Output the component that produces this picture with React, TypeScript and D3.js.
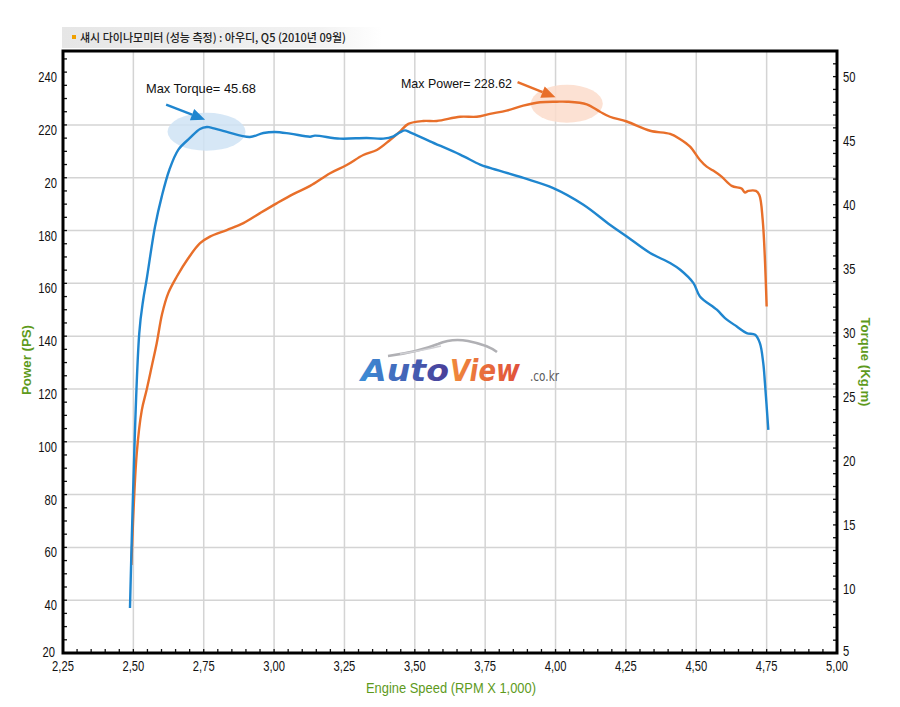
import React from "react";
import * as d3 from "d3";

// ---- data (RPM x 1,000) ----
const torqueRpm = [2.488, 2.521, 2.535, 2.547, 2.577, 2.601, 2.628, 2.66, 2.701, 2.737, 2.761, 2.772, 2.832, 2.914, 2.962, 3.003, 3.057, 3.128, 3.145, 3.234, 3.329, 3.388, 3.424, 3.447, 3.465, 3.483, 3.554, 3.661, 3.732, 3.767, 3.886, 3.992, 4.099, 4.193, 4.253, 4.336, 4.407, 4.443, 4.49, 4.513, 4.573, 4.602, 4.644, 4.679, 4.709, 4.726, 4.738, 4.744, 4.756];
const torqueKgm = [8.52, 29.98, 32.58, 34.14, 38.3, 40.65, 42.73, 44.3, 45.21, 45.91, 46.07, 46.04, 45.68, 45.29, 45.6, 45.68, 45.55, 45.31, 45.39, 45.16, 45.21, 45.16, 45.34, 45.65, 45.8, 45.65, 44.95, 43.91, 43.13, 42.87, 42.09, 41.3, 40.0, 38.44, 37.52, 36.23, 35.45, 34.92, 33.88, 32.84, 31.8, 31.15, 30.49, 29.98, 29.84, 29.2, 27.63, 26.07, 22.42];

const powerRpm = [2.493, 2.512, 2.53, 2.547, 2.565, 2.583, 2.602, 2.624, 2.654, 2.695, 2.737, 2.772, 2.832, 2.891, 2.95, 3.009, 3.068, 3.128, 3.199, 3.258, 3.317, 3.365, 3.412, 3.447, 3.477, 3.53, 3.578, 3.661, 3.72, 3.767, 3.826, 3.885, 3.945, 4.004, 4.04, 4.111, 4.158, 4.193, 4.253, 4.336, 4.407, 4.443, 4.478, 4.513, 4.537, 4.56, 4.59, 4.626, 4.661, 4.673, 4.685, 4.712, 4.724, 4.736, 4.75];
const powerPs = [53.3, 95.6, 112.0, 119.6, 128.4, 137.3, 148.4, 156.3, 162.5, 169.5, 175.2, 177.7, 180.2, 182.8, 186.6, 190.3, 193.8, 196.9, 201.7, 204.8, 208.6, 210.5, 214.3, 217.5, 220.4, 221.5, 221.5, 223.1, 223.1, 224.2, 225.4, 227.3, 228.6, 228.8, 228.8, 227.8, 225.0, 223.1, 221.3, 217.8, 216.6, 214.6, 211.8, 206.7, 204.2, 202.7, 200.4, 196.9, 195.9, 194.4, 195.0, 195.0, 193.5, 184.0, 151.2];

const xTicks = [2.25, 2.5, 2.75, 3.0, 3.25, 3.5, 3.75, 4.0, 4.25, 4.5, 4.75, 5.0];
const xTickLabels = ["2,25", "2,50", "2,75", "3,00", "3,25", "3,50", "3,75", "4,00", "4,25", "4,50", "4,75", "5,00"];
const powerTicks = [20, 40, 60, 80, 100, 120, 140, 160, 180, 200, 220, 240];
const powerTickLabels = ["20", "40", "60", "80", "100", "120", "140", "160", "180", "20", "220", "240"];
const powerGrid = [40, 60, 80, 100, 120, 140, 160, 180, 200, 220];
const torqueTicks = [5, 10, 15, 20, 25, 30, 35, 40, 45, 50];

const titleText = "섀시 다이나모미터 (성능 측정) : 아우디, Q5  (2010년 09월)";
const maxTorqueLabel = "Max Torque= 45.68";
const maxPowerLabel = "Max Power= 228.62";

const W = 900, H = 707;
const L = 63, R = 837, T = 51, B = 653;
const BLUE = "#1f86cf";
const ORANGE = "#e86f2a";
const GREEN = "#5e9a1c";
const NUM_FONT = "'Liberation Sans', Arial, sans-serif";

function Narrow({ x, y, anchor, children, size = 14, fill = "#111", sx = 0.8, weight = "normal" }: any) {
  return (
    <g transform={`translate(${x},${y}) scale(${sx},1)`}>
      <text x={0} y={0} textAnchor={anchor} fontFamily={NUM_FONT} fontSize={size} fill={fill} fontWeight={weight}>{children}</text>
    </g>
  );
}

export default function App() {
  const x = d3.scaleLinear().domain([2.25, 5.0]).range([L, R]);
  const yP = d3.scaleLinear().domain([20, 248]).range([B, T]);
  const yT = d3.scaleLinear().domain([5, 52]).range([B, T]);

  const torqueLine = d3.line<number>().x((_, i) => x(torqueRpm[i])).y((d) => yT(d)).curve(d3.curveCatmullRom.alpha(0.5));
  const powerLine = d3.line<number>().x((_, i) => x(powerRpm[i])).y((d) => yP(d)).curve(d3.curveCatmullRom.alpha(0.5));

  const xMinor = d3.range(2.25, 5.0001, 0.05);
  const pMinor = d3.range(20, 248, 5);
  const tMinor = d3.range(5, 52.01, 1);

  // annotation anchors in data space
  const tqEll = { cx: x(2.76), cy: yT(45.7) };
  const pwEll = { cx: x(4.04), cy: yP(228) };
  const tqTip = { x: x(2.755), y: yT(46.64) };
  const pwTip = { x: x(4.0), y: yP(230.5) };

  const arrow = (tip: { x: number; y: number }, dx: number, dy: number, color: string) => {
    const len = Math.hypot(dx, dy);
    const ux = -dx / len, uy = -dy / len;
    const hx = tip.x - ux * 14, hy = tip.y - uy * 14;
    const px = -uy, py = ux;
    const head = `${tip.x},${tip.y} ${hx + px * 6},${hy + py * 6} ${hx - px * 6},${hy - py * 6}`;
    return (
      <g>
        <line x1={tip.x + dx} y1={tip.y + dy} x2={hx} y2={hy} stroke={color} strokeWidth={2.5} />
        <polygon points={head} fill={color} />
      </g>
    );
  };

  return (
    <svg width={W} height={H} style={{ position: "absolute", left: 0, top: 0, background: "#fff" }}>
      <defs>
        <linearGradient id="titleBg" x1="0" x2="1" y1="0" y2="0">
          <stop offset="0" stopColor="#e6e6e6" />
          <stop offset="0.8" stopColor="#f2f2f2" />
          <stop offset="1" stopColor="#ffffff" />
        </linearGradient>
        <linearGradient id="autoGrad" x1="0" x2="1" y1="0" y2="0">
          <stop offset="0" stopColor="#3c8fd8" />
          <stop offset="1" stopColor="#4a3d98" />
        </linearGradient>
        <linearGradient id="viewGrad" x1="0" x2="1" y1="0" y2="0">
          <stop offset="0" stopColor="#f08a3c" />
          <stop offset="1" stopColor="#e0503c" />
        </linearGradient>
      </defs>

      {/* title */}
      <rect x={62} y={27} width={320} height={21} fill="url(#titleBg)" />
      <rect x={72} y={35} width={4} height={4} fill="#f0a000" />
      <text x={80} y={42} fontFamily="'Noto Sans CJK KR', sans-serif" fontWeight="500" fontSize={11.5} fill="#222" textLength={266} lengthAdjust="spacingAndGlyphs">
        {titleText}
      </text>

      {/* grid */}
      {xTicks.slice(1, -1).map((t) => (
        <line key={"gx" + t} x1={x(t)} x2={x(t)} y1={T} y2={B} stroke="#d4d4d4" strokeWidth={1.5} />
      ))}
      {powerGrid.map((t) => (
        <line key={"gy" + t} x1={L} x2={R} y1={yP(t)} y2={yP(t)} stroke="#d4d4d4" strokeWidth={1.5} />
      ))}

      {/* minor ticks */}
      {xMinor.map((t, i) => (
        <line key={"xm" + i} x1={x(t)} x2={x(t)} y1={B} y2={B - 4} stroke="#111" strokeWidth={1.3} />
      ))}
      {pMinor.map((t, i) => (
        <line key={"pm" + i} x1={L} x2={L + 4} y1={yP(t)} y2={yP(t)} stroke="#111" strokeWidth={1.3} />
      ))}
      {tMinor.map((t, i) => (
        <line key={"tm" + i} x1={R} x2={R - 4} y1={yT(t)} y2={yT(t)} stroke="#111" strokeWidth={1.3} />
      ))}

      {/* watermark */}
      <path d="M388,356 Q418,352 438,344 Q452,338 468,341 Q488,345 497,352" fill="none" stroke="#b0b0b4" strokeWidth={2.5} />
      <path d="M400,354 Q425,350 441,346" fill="none" stroke="#d0d0d4" strokeWidth={1.5} />
      <text x={361} y={381} fontFamily="'DejaVu Sans', sans-serif" fontWeight="bold" fontStyle="italic" fontSize={31} fill="url(#autoGrad)" textLength={88} lengthAdjust="spacingAndGlyphs">Auto</text>
      <text x={450} y={381} fontFamily="'DejaVu Sans', sans-serif" fontWeight="bold" fontStyle="italic" fontSize={31} fill="url(#viewGrad)" textLength={70} lengthAdjust="spacingAndGlyphs">View</text>
      <text x={530} y={381} fontFamily="'DejaVu Sans', sans-serif" fontSize={14} fill="#5a5a5a" textLength={29} lengthAdjust="spacingAndGlyphs">.co.kr</text>

      {/* highlight ellipses */}
      <ellipse cx={tqEll.cx} cy={tqEll.cy} rx={39} ry={19} fill="#cfe3f4" opacity={0.85} />
      <ellipse cx={pwEll.cx} cy={pwEll.cy} rx={36} ry={19} fill="#fbdccb" opacity={0.85} />

      {/* curves */}
      <path d={powerLine(powerPs) || ""} fill="none" stroke={ORANGE} strokeWidth={2.4} strokeLinejoin="round" />
      <path d={torqueLine(torqueKgm) || ""} fill="none" stroke={BLUE} strokeWidth={2.4} strokeLinejoin="round" />

      {/* annotations */}
      {arrow(tqTip, -39, -15, BLUE)}
      {arrow(pwTip, -38, -15, ORANGE)}
      <text x={146} y={93} fontFamily="'Liberation Sans', Arial, sans-serif" fontSize={13} fill="#111" textLength={110} lengthAdjust="spacingAndGlyphs">{maxTorqueLabel}</text>
      <text x={401} y={88} fontFamily="'Liberation Sans', Arial, sans-serif" fontSize={13} fill="#111" textLength={111} lengthAdjust="spacingAndGlyphs">{maxPowerLabel}</text>

      {/* frame */}
      <rect x={L} y={T} width={R - L} height={B - T} fill="none" stroke="#000" strokeWidth={3} />

      {/* tick labels */}
      {xTicks.map((t, i) => (
        <Narrow key={"xl" + t} x={x(t)} y={671} anchor="middle">{xTickLabels[i]}</Narrow>
      ))}
      {powerTicks.map((t, i) => (
        <Narrow key={"pl" + t} x={t === 20 ? 55 : 57} y={yP(t) + (t === 20 ? 4 : 10)} anchor="end">{powerTickLabels[i]}</Narrow>
      ))}
      {torqueTicks.map((t) => (
        <Narrow key={"tl" + t} x={843} y={yT(t) + (t === 5 ? 3 : 5)} anchor="start">{t}</Narrow>
      ))}

      {/* axis titles */}
      <text x={451} y={693} textAnchor="middle" fontFamily={NUM_FONT} fontSize={14} fill={GREEN} textLength={170} lengthAdjust="spacingAndGlyphs">Engine Speed (RPM X 1,000)</text>
      <text transform="translate(31,360) rotate(-90)" textAnchor="middle" fontFamily={NUM_FONT} fontWeight="bold" fontSize={13} fill={GREEN} textLength={70} lengthAdjust="spacingAndGlyphs">Power (PS)</text>
      <text transform="translate(861,362) rotate(90)" textAnchor="middle" fontFamily={NUM_FONT} fontWeight="bold" fontSize={13} fill={GREEN} textLength={89} lengthAdjust="spacingAndGlyphs">Torque (Kg.m)</text>
    </svg>
  );
}
